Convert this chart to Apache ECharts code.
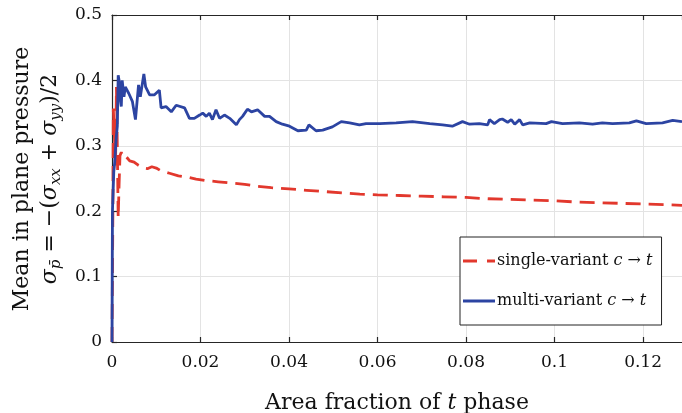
<!DOCTYPE html>
<html>
<head>
<meta charset="utf-8">
<script src="https://cdn.jsdelivr.net/npm/echarts@6/dist/echarts.min.js"></script>
<style>
  html, body { margin: 0; padding: 0; background: #fff; }
  #chart { width: 682px; height: 413px; }
</style>
</head>
<body>
<div id="chart"></div>
<script>
// single-variant c -> t (red dashed)
const singleFrac = [0, 0.0002, 0.0003, 0.0006, 0.0008, 0.0010, 0.0012, 0.0014, 0.0016, 0.0018,
  0.0021, 0.0025, 0.003, 0.0035, 0.004, 0.005, 0.006, 0.007, 0.008, 0.009, 0.010, 0.011,
  0.013, 0.015, 0.017, 0.019, 0.021, 0.024, 0.027, 0.030, 0.033, 0.036, 0.040, 0.044,
  0.048, 0.052, 0.056, 0.060, 0.065, 0.070, 0.075, 0.080, 0.085, 0.090, 0.095, 0.100,
  0.105, 0.110, 0.115, 0.120, 0.125, 0.1288];
const singlePress = [0, 0.2, 0.357, 0.36, 0.27, 0.39, 0.30, 0.19, 0.24, 0.285,
  0.29, 0.283, 0.285, 0.281, 0.277, 0.275, 0.27, 0.266, 0.265, 0.268, 0.266, 0.262,
  0.258, 0.254, 0.252, 0.249, 0.247, 0.245, 0.243, 0.241, 0.238, 0.236, 0.234, 0.232,
  0.230, 0.228, 0.226, 0.225, 0.224, 0.223, 0.222, 0.221, 0.219, 0.218, 0.217, 0.216,
  0.214, 0.213, 0.212, 0.211, 0.210, 0.209];

// multi-variant c -> t (blue solid)
const multiFrac = [0, 0.0001, 0.0004, 0.0006, 0.00095, 0.0012, 0.0014, 0.0017, 0.0019, 0.0021,
  0.0023, 0.0027, 0.003, 0.0038, 0.0046, 0.0053, 0.006, 0.0064, 0.0072, 0.0076, 0.0085,
  0.0096, 0.0107, 0.0111, 0.0122, 0.0134, 0.0145, 0.0164, 0.0175, 0.0186, 0.0198, 0.0205,
  0.0213, 0.022, 0.0227, 0.0235, 0.0243, 0.0254, 0.0266, 0.0281, 0.0288, 0.0295, 0.0306,
  0.0315, 0.0329, 0.0345, 0.0356, 0.0371, 0.0385, 0.0401, 0.042, 0.0439, 0.0445, 0.0461,
  0.0476, 0.0498, 0.0518, 0.0537, 0.0559, 0.0574, 0.0605, 0.0642, 0.0679, 0.0718, 0.0747,
  0.0769, 0.0792, 0.0808, 0.083, 0.0849, 0.0853, 0.0864, 0.0876, 0.0882, 0.0894, 0.0902,
  0.091, 0.0921, 0.0928, 0.0944, 0.0981, 0.0993, 0.1018, 0.1056, 0.1086, 0.1108, 0.1131,
  0.1169, 0.1185, 0.1207, 0.1244, 0.1267, 0.1288];
const multiPress = [0, 0.2, 0.26, 0.274, 0.312, 0.33, 0.408, 0.396, 0.37, 0.36,
  0.40, 0.375, 0.39, 0.38, 0.368, 0.34, 0.393, 0.375, 0.41, 0.39, 0.378,
  0.378, 0.385, 0.358, 0.36, 0.352, 0.362, 0.358, 0.342, 0.342, 0.347, 0.35,
  0.345, 0.35, 0.34, 0.355, 0.342, 0.347, 0.342, 0.332, 0.34, 0.345, 0.356,
  0.352, 0.355, 0.345, 0.345, 0.337, 0.333, 0.33, 0.323, 0.324, 0.332, 0.323,
  0.324, 0.329, 0.337, 0.335, 0.332, 0.334, 0.334, 0.335, 0.337, 0.334, 0.332,
  0.33, 0.337, 0.333, 0.334, 0.332, 0.34, 0.334, 0.34, 0.341, 0.336, 0.34,
  0.333, 0.34, 0.332, 0.335, 0.334, 0.337, 0.334, 0.335, 0.333, 0.335, 0.334,
  0.335, 0.338, 0.334, 0.335, 0.339, 0.337];

const seriesNames = ['single-variant', 'multi-variant'];
const xTicks = { min: 0, max: 0.1288, interval: 0.02 };
const yTicks = { min: 0, max: 0.5, interval: 0.1 };

const FONT = '"DejaVu Serif", serif';
const AXIS_COLOR = '#262626';
const RED = '#e2382d';
const BLUE = '#2c44a2';

const zip = (xs, ys) => xs.map((x, i) => [x, ys[i]]);

const chart = echarts.init(document.getElementById('chart'), null, { renderer: 'canvas' });

const axisCommon = {
  axisLine: { show: true, lineStyle: { color: AXIS_COLOR, width: 1.2 } },
  axisTick: { show: true, inside: true, length: 5, lineStyle: { color: AXIS_COLOR, width: 1.2 } },
  splitLine: { show: true, lineStyle: { color: '#e3e3e3', width: 1 } },
};

chart.setOption({
  animation: false,
  backgroundColor: '#fff',
  textStyle: { fontFamily: FONT },
  grid: { left: 112, right: 0, top: 15, bottom: 71, containLabel: false, outerBoundsMode: 'none' },
  xAxis: [
    {
      type: 'value',
      position: 'bottom',
      min: xTicks.min,
      max: xTicks.max,
      interval: xTicks.interval,
      ...axisCommon,
      axisLabel: { color: '#111', fontSize: 17, fontFamily: FONT, margin: 12, showMaxLabel: false },
      name: 'Area fraction of {i|t} phase',
      nameLocation: 'middle',
      nameGap: 50,
      nameTextStyle: {
        color: '#111', fontSize: 22, fontFamily: FONT,
        rich: { i: { fontSize: 22, fontStyle: 'italic', fontFamily: FONT, color: '#111' } },
      },
    },
    {
      type: 'value',
      position: 'top',
      min: xTicks.min,
      max: xTicks.max,
      interval: xTicks.interval,
      axisLine: { show: true, lineStyle: { color: AXIS_COLOR, width: 1.2 } },
      axisTick: { show: true, inside: true, length: 5, lineStyle: { color: AXIS_COLOR, width: 1.2 } },
      axisLabel: { show: false },
      splitLine: { show: false },
    },
  ],
  yAxis: {
    type: 'value',
    min: yTicks.min,
    max: yTicks.max,
    interval: yTicks.interval,
    ...axisCommon,
    axisLabel: { color: '#111', fontSize: 17, fontFamily: FONT, margin: 10 },
  },
  legend: {
    orient: 'vertical',
    left: 460,
    top: 237,
    padding: [14, 9, 14, 3],
    itemGap: 20,
    itemWidth: 32,
    itemHeight: 3,
    backgroundColor: '#fff',
    borderColor: '#222',
    borderWidth: 1,
    borderRadius: 0,
    data: [
      { name: seriesNames[0], icon: 'path://M0,0H14V3H0Z M24,0H32V3H24Z' },
      { name: seriesNames[1], icon: 'path://M0,0H32V3H0Z' },
    ],
    formatter: name => name + ' {i|c} → {i|t}',
    textStyle: {
      color: '#111', fontSize: 16, fontFamily: FONT, lineHeight: 20, padding: [0, 0, 0, -3],
      rich: { i: { fontSize: 16, fontStyle: 'italic', fontFamily: FONT, color: '#111' } },
    },
  },
  series: [
    {
      name: seriesNames[0],
      type: 'line',
      data: zip(singleFrac, singlePress),
      symbol: 'none',
      showSymbol: false,
      lineStyle: { color: RED, width: 2.8, type: [15, 8], dashOffset: 0 },
      itemStyle: { color: RED },
      z: 2,
    },
    {
      name: seriesNames[1],
      type: 'line',
      data: zip(multiFrac, multiPress),
      symbol: 'none',
      showSymbol: false,
      lineStyle: { color: BLUE, width: 2.8 },
      itemStyle: { color: BLUE },
      z: 3,
    },
  ],
  graphic: [
    {
      type: 'text',
      x: 36,
      y: 179,
      rotation: Math.PI / 2,
      style: {
        text: '{a|Mean in plane pressure}\n'
          + '{m|σ}{s|p̄}{r| = −(}{m|σ}{s|xx}{r| + }{m|σ}{s|yy}{r|)/2}',
        align: 'center',
        verticalAlign: 'middle',
        fill: '#111',
        rich: {
          a: { fontSize: 22, fontFamily: FONT, lineHeight: 28, verticalAlign: 'middle', fill: '#111' },
          m: { fontSize: 22, fontFamily: FONT, fontStyle: 'italic', lineHeight: 28, verticalAlign: 'middle', fill: '#111' },
          r: { fontSize: 22, fontFamily: FONT, lineHeight: 28, verticalAlign: 'middle', fill: '#111' },
          s: { fontSize: 15, fontFamily: FONT, fontStyle: 'italic', lineHeight: 8, verticalAlign: 'bottom', fill: '#111' },
        },
      },
    },
  ],
});
</script>
</body>
</html>
